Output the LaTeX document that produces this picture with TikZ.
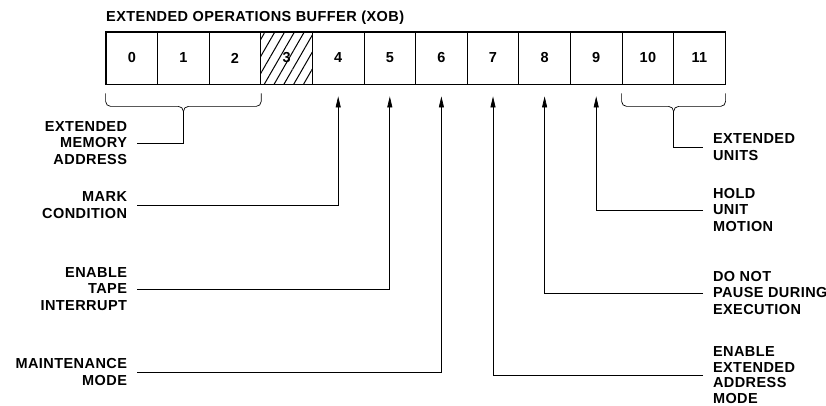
\documentclass[tikz,border=0pt]{standalone}
\usepackage{fontspec}
\setmainfont{Liberation Sans}[LetterSpace=3]
\usepackage{tikz}
\usetikzlibrary{arrows.meta,patterns.meta,calc}

\tikzset{
  cell/.style={draw,line width=0.8pt,minimum width=51.6pt,minimum height=52pt,inner sep=0pt},
  hatch/.style={pattern={Lines[angle=60,distance=8.5pt,line width=1pt]}},
  lbl/.style={inner sep=0pt,outer xsep=10pt},
  lbll/.style={lbl,anchor=east,align=right},
  lblr/.style={lbl,anchor=west,align=left},
  wire/.style={line width=0.7pt},
  flag/.style={wire,-{Triangle[length=11pt,width=5pt]},shorten >=12pt},
}

\begin{document}
\begin{tikzpicture}[x=1pt,y=-1pt,font=\fontsize{14.5}{16.5}\selectfont\bfseries]
  \useasboundingbox (0,0) rectangle (826,406);

  \node[anchor=west,inner sep=0pt] (title) at (106,18) {EXTENDED OPERATIONS BUFFER (XOB)};

  % the twelve bits
  \foreach \i in {0,1,2,4,5,...,11}
    \node[cell] (c\i) at ({106+51.6*(\i+0.5)},58) {\i};
  \node[cell,hatch] (c3) at ({106+51.6*3.5},58) {3};
  \draw[line width=1.6pt] (c0.north west) rectangle (c11.south east);

  \node[lbll] (ema)   at (137,143) {EXTENDED\\MEMORY\\ADDRESS};
  \node[lbll] (mark)  at (137,205) {MARK\\CONDITION};
  \node[lbll] (eti)   at (137,289) {ENABLE\\TAPE\\INTERRUPT};
  \node[lbll] (maint) at (137,372) {MAINTENANCE\\MODE};

  \node[lblr] (eu)   at (703,147) {EXTENDED\\UNITS};
  \node[lblr] (hold) at (703,210) {HOLD\\UNIT\\MOTION};
  \node[lblr] (dnp)  at (703,293) {DO NOT\\PAUSE DURING\\EXECUTION};
  \node[lblr,font=\fontsize{14.5}{15.5}\selectfont\bfseries] (eeam) at (703,375) {ENABLE\\EXTENDED\\ADDRESS\\MODE};

  % braces
  \coordinate (emaMid) at ($(c0.south west)!0.5!(c2.south east)+(0,22)$);
  \draw[wire,rounded corners=5pt] ($(c0.south west)+(0,9)$) |- (emaMid) -- ++(0,6);
  \draw[wire,rounded corners=5pt] ($(c2.south east)+(0,9)$) |- (emaMid) -- ++(0,6);
  \draw[wire] ($(emaMid)+(0,5)$) |- (ema.east);

  \coordinate (euMid) at ($(c10.south west)!0.5!(c11.south east)+(0,22)$);
  \draw[wire,rounded corners=5pt] ($(c10.south west)+(0,9)$) |- (euMid) -- ++(0,6);
  \draw[wire,rounded corners=5pt] ($(c11.south east)+(0,9)$) |- (euMid) -- ++(0,6);
  \draw[wire] ($(euMid)+(0,5)$) |- (eu.west);

  \draw[flag] (mark.east)  -| (c4.south);
  \draw[flag] (eti.east)   -| (c5.south);
  \draw[flag] (maint.east) -| (c6.south);
  \draw[flag] (eeam.west)  -| (c7.south);
  \draw[flag] (dnp.west)   -| (c8.south);
  \draw[flag] (hold.west)  -| (c9.south);
\end{tikzpicture}
\end{document}
